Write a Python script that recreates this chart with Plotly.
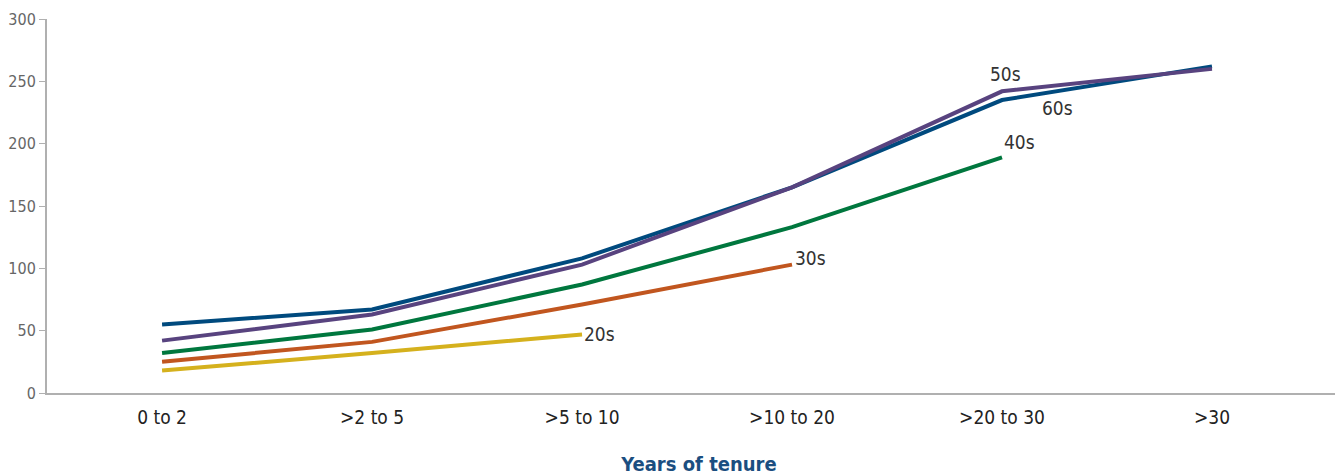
import plotly.graph_objects as go

categories = ["0 to 2", ">2 to 5", ">5 to 10", ">10 to 20", ">20 to 30", ">30"]
s20 = [18, 32, 47]
s30 = [25, 41, 71, 103]
s40 = [32, 51, 87, 133, 189]
s50 = [42, 63, 103, 165, 242, 260]
s60 = [55, 67, 108, 165, 235, 262]
yticks = [0, 50, 100, 150, 200, 250, 300]

series = [
    ("20s", s20, "#d5b11d"),
    ("30s", s30, "#c1561f"),
    ("40s", s40, "#00773e"),
    ("60s", s60, "#004a7e"),
    ("50s", s50, "#58437f"),
]

FONT = "DejaVu Sans Condensed, Roboto, sans-serif"

fig = go.Figure()
for name, vals, col in series:
    fig.add_trace(go.Scatter(
        x=categories[:len(vals)], y=vals, mode="lines", name=name,
        line=dict(color=col, width=4), showlegend=False,
    ))

label_font = dict(family=FONT, size=19, color="#333333")
fig.add_annotation(x=categories[2], y=s20[-1], text="20s", showarrow=False,
                   xanchor="left", yanchor="middle", xshift=0, font=label_font)
fig.add_annotation(x=categories[3], y=s30[-1], text="30s", showarrow=False,
                   xanchor="left", yanchor="middle", xshift=1, yshift=7, font=label_font)
fig.add_annotation(x=categories[4], y=s40[-1], text="40s", showarrow=False,
                   xanchor="left", yanchor="bottom", xshift=0, yshift=2, font=label_font)
fig.add_annotation(x=categories[4], y=s50[4], text="50s", showarrow=False,
                   xanchor="center", yanchor="bottom", xshift=3, yshift=4, font=label_font)
fig.add_annotation(x=categories[4], y=s60[4], text="60s", showarrow=False,
                   xanchor="left", yanchor="top", xshift=38, yshift=5, font=label_font)

fig.update_layout(
    width=1343, height=475,
    margin=dict(l=39, r=0, t=11, b=90),
    paper_bgcolor="white", plot_bgcolor="white",
    xaxis=dict(
        type="category", categoryorder="array", categoryarray=categories,
        range=[-0.548, 5.662], showgrid=False, zeroline=False,
        showline=True, linecolor="#b0b0b0", linewidth=2,
        ticks="", ticklabelstandoff=6,
        tickfont=dict(family=FONT, size=19, color="#222222"),
        title=dict(text="<b>Years of tenure</b>", standoff=30,
                   font=dict(family=FONT, size=20, color="#1b4e80")),
    ),
    yaxis=dict(
        range=[0, 300], tickvals=yticks, showgrid=False, zeroline=False,
        showline=True, linecolor="#b0b0b0", linewidth=2,
        ticks="outside", ticklen=6, tickcolor="#b0b0b0", tickwidth=1,
        tickfont=dict(family=FONT, size=16, color="#666666"),
    ),
)

fig.write_html("out.html")
